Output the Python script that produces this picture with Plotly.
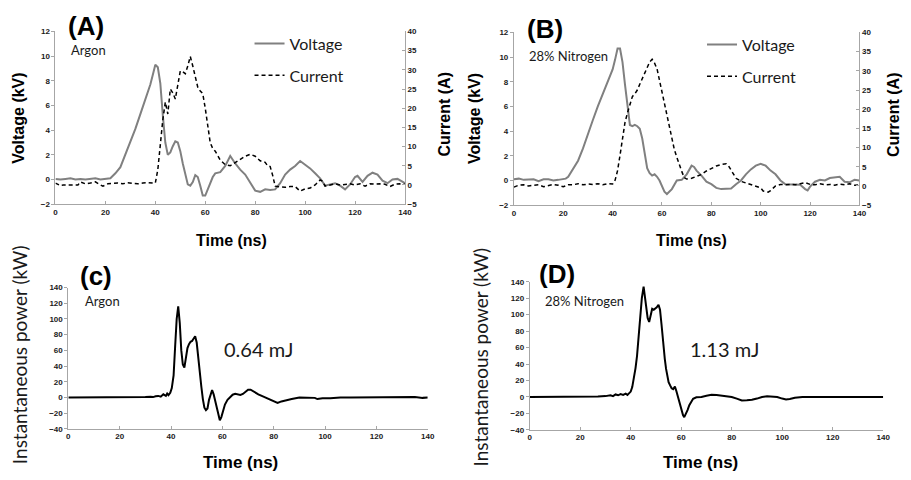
import plotly.graph_objects as go

# ---------------- data ----------------
# Panel A (Argon): voltage (kV) and current (A) vs time (ns)
time_volt_a = [0, 2, 4, 6, 8, 10, 12, 14, 16, 18, 20, 22, 23, 24, 26, 28, 30, 32, 34, 36, 38, 39, 40, 41, 42, 43, 44, 45,
               46, 47, 48, 49, 50, 51, 52, 53, 54, 55, 56, 57, 58, 59, 60, 61, 62, 63, 64, 66, 68, 70, 72, 74, 76, 78,
               80, 82, 84, 86, 88, 90, 92, 94, 96, 98, 100, 102, 104, 106, 108, 110, 112, 114, 116, 118, 120, 121, 123,
               125, 127, 129, 131, 133, 135, 137, 139, 140]
volt_a = [0.05, 0.0, 0.05, 0.1, 0.0, 0.05, 0.0, 0.05, 0.1, 0.0, 0.05, 0.1, 0.3, 0.5, 1.0, 2.0, 3.0, 4.1, 5.3, 6.5, 7.7,
          8.5, 9.3, 9.1, 7.8, 5.2, 3.0, 2.0, 2.2, 2.7, 3.1, 3.0, 2.3, 1.3, 0.3, -0.4, -0.5, -0.2, 0.35, 0.2, -0.5, -1.3,
          -1.3, -0.8, -0.2, 0.2, 0.5, 0.6, 1.1, 1.9, 1.3, 0.8, 0.4, -0.2, -0.9, -1.0, -0.8, -0.85, -0.8, -0.3, 0.4, 0.8,
          1.1, 1.5, 1.2, 0.9, 0.5, 0.1, -0.5, -0.4, -0.3, -0.5, -0.8, -0.4, 0.2, 0.3, -0.2, 0.3, 0.55, 0.4, -0.1, -0.3,
          0.0, 0.05, -0.15, -0.3]

time_curr_a = [0, 2, 3, 5, 7, 9, 10, 12, 14, 16, 18, 19, 21, 23, 25, 27, 29, 31, 33, 35, 37, 39,
               40, 41, 42, 43, 44, 45, 46, 47, 48, 49, 50, 51, 52, 53, 54, 55, 56, 57, 58, 59, 60, 61, 62, 63, 64,
               66, 68, 70, 72, 74, 76, 78, 80, 82, 84, 85, 86, 87, 88,
               90, 92, 94, 96, 98, 100, 102, 104, 106, 107, 108,
               110, 112, 114, 116, 118, 120, 122, 124, 126, 128, 130, 132, 134, 136, 138, 140]
curr_a = [0.5, -0.2, 0.0, 0.0, 0.1, 0.0, 0.8, 0.3, 0.5, 0.8, 0.0, -0.3, 0.3, 0.4, 0.5, 0.3, 0.6, 0.4, 0.3, 0.5, 0.6, 0.5,
          0.5, 4.0, 11.0, 17.0, 21.6, 18.5, 25.0, 24.0, 22.4, 26.0, 29.7, 29.5, 29.0, 31.0, 33.5, 31.0, 28.0, 25.5,
          24.5, 23.8, 20.0, 15.0, 11.0, 9.5, 8.8,
          6.5, 5.3, 5.0, 5.8, 6.7, 7.5, 8.0, 7.5, 6.3, 5.9, 5.0, 4.8, 2.5, -0.3,
          -0.5, -0.6, -0.4, -0.4, -1.6, -1.0, -0.8, 0.0, 1.3, 1.0, -0.3,
          0.0, 0.3, 0.0, 0.2, 0.3, 0.0, 0.3, -0.3, 0.3, 0.2, 0.3, 0.2, -0.4, 0.2, 0.3, 0.2]

# Panel B (28% Nitrogen)
time_volt_b = [0, 2, 4, 6, 8, 10, 12, 14, 16, 18, 20, 21, 22, 24, 26, 28, 30, 32, 34, 36, 38, 40, 41, 42, 43, 44, 45,
               46, 47, 48, 49, 50, 51, 52, 53, 54, 55, 56, 57, 58, 59, 60, 61, 62, 63, 64, 66, 68, 70, 71, 72, 73, 74,
               76, 78, 80, 82, 84, 86, 88, 90, 92, 94, 96, 98, 100, 102, 104, 106, 108, 110, 112, 114, 116, 118, 119,
               120, 122, 124, 126, 128, 130, 132, 134, 136, 138, 140]
volt_b = [0.1, 0.15, 0.05, 0.1, 0.1, -0.05, 0.1, 0.1, 0.0, 0.05, 0.1, 0.15, 0.3, 0.9, 1.6, 2.6, 3.8, 4.9, 6.0, 7.0, 8.0,
          9.0, 9.8, 10.7, 10.7, 9.6, 7.8, 6.0, 4.5, 4.4, 4.5, 4.4, 4.2, 3.4, 2.2, 1.0, 0.6, 0.4, 0.5, 0.3, 0.0, -0.4,
          -0.9, -1.1, -0.9, -0.7, 0.0, 0.05, 0.5, 0.9, 1.2, 1.1, 0.8, 0.4, -0.1, -0.3, -0.6, -0.7, -0.7, -0.65, -0.3,
          0.0, 0.5, 0.9, 1.2, 1.35, 1.2, 0.8, 0.5, 0.0, -0.3, -0.3, -0.3, -0.35, -0.7, -0.8, -0.5, -0.1, 0.05, 0.0,
          0.2, 0.25, 0.3, -0.1, -0.15, 0.05, 0.0]

time_curr_b = [0, 2, 4, 6, 8, 10, 12, 14, 16, 18, 20, 22, 24, 26, 28, 30, 32, 34, 36, 38, 40, 41, 42, 43, 44, 45, 46,
               47, 48, 49, 50, 51, 52, 53, 54, 55, 56, 57, 58, 59, 60, 61, 62, 63, 64, 65, 66, 67, 68, 69, 70, 72, 74,
               76, 78, 80, 82, 84, 86, 87, 88, 89, 90, 92, 94, 96, 98, 100, 101, 102, 103, 104, 105, 106, 108, 110,
               112, 114, 116, 118, 120, 122, 124, 126, 128, 130, 132, 134, 136, 138, 140]
curr_b = [-0.3, 0.2, 0.3, 0.0, 0.2, 0.3, -0.2, 0.1, 0.4, 0.2, -0.2, 0.3, 0.3, 0.6, 0.3, 0.5, 0.4, 0.6, 0.3, 0.6, 0.5,
          1.5, 4.0, 8.0, 12.5, 16.5, 19.0, 21.5, 23.3, 24.0, 25.0, 26.5, 28.0, 29.5, 31.0, 32.3, 33.0, 32.0, 30.5,
          27.5, 24.5, 21.5, 18.5, 15.5, 12.5, 9.5, 7.5, 5.5, 3.8, 2.2, 1.8, 2.0, 2.4, 3.0, 3.9, 4.6, 5.2, 5.6, 5.8,
          5.2, 4.0, 2.8, 2.0, 1.2, 0.8, 0.3, 0.0, -0.5, -1.3, -1.5, -1.6, -1.2, -0.6, 0.0, 0.4, 0.3, 0.4, 0.3, 0.6,
          0.9, 0.4, 0.3, 0.6, 0.3, 0.4, 0.2, 0.5, 0.3, 0.6, 0.2, 0.3]

# Panel C (Argon): instantaneous power (kW)
time_pow_c = [0, 10, 20, 26, 28, 30, 32, 33, 34, 35, 36, 37, 38, 38.5, 39, 39.7, 40.3, 41, 41.6, 42.2, 42.8, 43.4, 44,
              44.6, 45.2, 45.8, 46.4, 47, 47.6, 48.2, 48.8, 49.4, 50, 50.6, 51.2, 51.8, 52.4, 53, 53.6, 54.2, 54.8,
              55.4, 56, 56.6, 57.2, 57.8, 58.4, 59, 59.6, 60.2, 61, 62, 63, 64, 65, 66, 67, 68, 69, 70, 71, 72, 73,
              74, 76, 78, 80, 81.5, 83, 85, 87, 90, 93, 96, 97, 99, 102, 106, 110, 120, 130, 135, 138, 140]
pow_c = [0, 0, 0, 0, 0.3, 0.5, 1.0, 0.5, 1.5, 2.0, 1.0, 4.0, 2.0, 5.0, 3.0, 6.0, 12, 28, 65, 100, 116, 95, 60, 42, 38,
         50, 63, 68, 71, 72, 76, 78, 70, 48, 30, 14, -2, -13, -16, -14, -3, 5, 9.5, 4, -5, -14, -24, -29, -25, -17,
         -9, -3, 1, 3.5, 4.6, 4, 3.3, 4.5, 7, 10, 10, 8, 5.5, 4, 1, -2, -5, -7, -5, -3, -2, 0, 0, -0.5, -2, -1, -1, 0,
         0, 0, 0, 0.5, -0.5, 0]

# Panel D (28% Nitrogen): instantaneous power (kW)
time_pow_d = [0, 10, 20, 24, 27, 30, 32, 33, 34, 35, 36, 37, 38, 38.7, 39.3, 40, 40.6, 41.2, 41.9, 42.5, 43.2, 43.8,
              44.4, 45.1, 45.6, 46.1, 46.7, 47.3, 47.9, 48.5, 49.1, 49.7, 50.3, 51, 51.6, 52.2, 52.9, 53.5, 54, 54.5,
              55, 55.6, 56.2, 56.8, 57.5, 58.1, 58.8, 59.4, 60.1, 60.7, 61.2, 61.8, 62.5, 63.2, 64, 64.7, 66, 68, 70,
              72, 74, 76, 78, 80, 82, 84, 86, 88, 90, 92, 94, 96, 98, 100, 101.5, 103, 105, 108, 112, 120, 130, 140]
pow_d = [0, 0, 0.3, 0, 0.5, 1.0, 2.0, 1.0, 3.0, 2.0, 3.5, 2.5, 4.0, 2.5, 5.0, 6.5, 12, 22, 35, 50, 75, 98, 120, 134,
         122, 108, 96, 91, 98, 107, 106, 107, 109, 112, 106, 88, 62, 46, 34, 24, 18, 14, 10.5, 9.5, 12.5, 7, -1.5,
         -9, -17, -22, -24.5, -21, -16, -10, -5, -2.3, -0.5, 0, 1.5, 2.5, 2.3, 1.5, 1, 0, -2, -4.3, -4, -3.5, -2, 0,
         0.8, 0.5, 0, -2, -3, -2.5, -1, 0, 0, 0, 0, 0]

x_ticks = [0, 20, 40, 60, 80, 100, 120, 140]
volt_ticks = [-2, 0, 2, 4, 6, 8, 10, 12]
curr_ticks = [-5, 0, 5, 10, 15, 20, 25, 30, 35, 40]
pow_ticks = [-40, -20, 0, 20, 40, 60, 80, 100, 120, 140]

# ---------------- layout helpers ----------------
W, H = 911, 480


def fx(p):
    return p / W


def fy(p):
    return 1 - p / H


AXC = '#a6a6a6'
TICKFONT = dict(family='Liberation Sans', size=8, color='#1a1a1a', weight='bold')


def xaxis(dom, anchor, ticks='inside'):
    return dict(domain=[fx(dom[0]), fx(dom[1])], anchor=anchor, range=[0, 140], tickvals=x_ticks,
                showline=True, linecolor=AXC, linewidth=1, ticks=ticks, ticklen=3, tickcolor=AXC,
                tickfont=TICKFONT, showgrid=False, zeroline=False, fixedrange=True)


def yaxis(dom, anchor, rng, vals, side='left', overlay=None, ticks='outside'):
    d = dict(anchor=anchor, range=rng, tickvals=vals, side=side,
             showline=True, linecolor=AXC, linewidth=1, ticks=ticks, ticklen=3, tickcolor=AXC,
             tickfont=TICKFONT, showgrid=False, zeroline=False, fixedrange=True)
    if overlay:
        d['overlaying'] = overlay
    else:
        d['domain'] = [fy(dom[1]), fy(dom[0])]
    return d


fig = go.Figure()
VCOL = '#808080'
DASH = '4px,3px'
fig.add_trace(go.Scatter(x=time_volt_a, y=volt_a, xaxis='x', yaxis='y', mode='lines', name='Voltage',
                         line=dict(color=VCOL, width=2), legend='legend', legendgroup='v'))
fig.add_trace(go.Scatter(x=time_curr_a, y=curr_a, xaxis='x', yaxis='y2', mode='lines', name='Current',
                         line=dict(color='black', width=1.5, dash=DASH), legend='legend', legendgroup='c'))
fig.add_trace(go.Scatter(x=time_volt_b, y=volt_b, xaxis='x2', yaxis='y3', mode='lines', name='Voltage',
                         line=dict(color=VCOL, width=2), legend='legend2', legendgroup='v2'))
fig.add_trace(go.Scatter(x=time_curr_b, y=curr_b, xaxis='x2', yaxis='y4', mode='lines', name='Current',
                         line=dict(color='black', width=1.5, dash=DASH), legend='legend2', legendgroup='c2'))
fig.add_trace(go.Scatter(x=time_pow_c, y=pow_c, xaxis='x3', yaxis='y5', mode='lines', showlegend=False,
                         line=dict(color='black', width=2)))
fig.add_trace(go.Scatter(x=time_pow_d, y=pow_d, xaxis='x4', yaxis='y6', mode='lines', showlegend=False,
                         line=dict(color='black', width=2)))

legend_common = dict(xanchor='left', yanchor='top', bgcolor='rgba(0,0,0,0)', borderwidth=0,
                     font=dict(family='Lato', size=16, color='#1a1a1a'), tracegroupgap=8, itemwidth=30)

fig.update_layout(
    width=W, height=H, autosize=False,
    margin=dict(l=0, r=0, t=0, b=0),
    paper_bgcolor='white', plot_bgcolor='white',
    xaxis=xaxis((54, 407), 'y'),
    yaxis=yaxis((28, 204), 'x', [-2, 12], volt_ticks),
    yaxis2=yaxis(None, 'x', [-5, 40], curr_ticks, side='right', overlay='y', ticks='inside'),
    xaxis2=xaxis((517, 866), 'y3'),
    yaxis3=yaxis((29, 205), 'x2', [-2, 12], volt_ticks),
    yaxis4=yaxis(None, 'x2', [-5, 40], curr_ticks, side='right', overlay='y3', ticks='inside'),
    xaxis3=xaxis((67, 430), 'y5'),
    yaxis5=yaxis((289, 433), 'x3', [-40, 140], pow_ticks),
    xaxis4=xaxis((533, 890), 'y6'),
    yaxis6=yaxis((283, 434), 'x4', [-40, 140], pow_ticks),
    legend=dict(x=fx(250), y=fy(23), **legend_common),
    legend2=dict(x=fx(707), y=fy(24), **legend_common),
)

BOLD = 'Liberation Sans'
ann = []


def add_text(text, x, y, size, family, bold=False, angle=0, xanchor='center', color='#000'):
    ann.append(dict(text=f'<b>{text}</b>' if bold else text, x=fx(x), y=fy(y), xref='paper', yref='paper',
                    showarrow=False, textangle=angle, xanchor=xanchor, yanchor='middle',
                    font=dict(family=family, size=size, color=color)))


# panel letters
add_text('(A)', 85, 22, 26, BOLD, bold=True)
add_text('(B)', 548, 25, 26, BOLD, bold=True)
add_text('(c)', 95, 277, 26, BOLD, bold=True)
add_text('(D)', 561, 275, 26, BOLD, bold=True)
# gas labels
add_text('Argon', 68, 47, 13, 'Lato', xanchor='left', color='#1a1a1a')
add_text('28% Nitrogen', 530, 53, 13, 'Lato', xanchor='left', color='#1a1a1a')
add_text('Argon', 82, 303, 13, 'Lato', xanchor='left', color='#1a1a1a')
add_text('28% Nitrogen', 546, 303, 13, 'Lato', xanchor='left', color='#1a1a1a')
# energy labels
add_text('0.64 mJ', 222, 352, 20, 'Lato', xanchor='left', color='#1a1a1a')
add_text('1.13 mJ', 693, 352, 20, 'Lato', xanchor='left', color='#1a1a1a')
# axis titles
add_text('Time (ns)', 232, 241, 16, BOLD, bold=True)
add_text('Time (ns)', 696, 241, 16, BOLD, bold=True)
add_text('Time (ns)', 241, 467, 17, BOLD, bold=True)
add_text('Time (ns)', 705, 467, 17, BOLD, bold=True)
add_text('Voltage (kV)', 17, 116, 16, BOLD, bold=True, angle=-90)
add_text('Voltage (kV)', 478, 117, 16, BOLD, bold=True, angle=-90)
add_text('Current (A)', 447, 113, 16, BOLD, bold=True, angle=-90)
add_text('Current (A)', 901, 113, 16, BOLD, bold=True, angle=-90)
add_text('Instantaneous power (kW)', 17, 357, 19, 'Lato', angle=-90, color='#1a1a1a')
add_text('Instantaneous power (kW)', 483, 360, 19, 'Lato', angle=-90, color='#1a1a1a')

fig.update_layout(annotations=ann)

fig.write_html('out.html', config={'displayModeBar': False},
               post_script="document.body.style.margin='0px';")
